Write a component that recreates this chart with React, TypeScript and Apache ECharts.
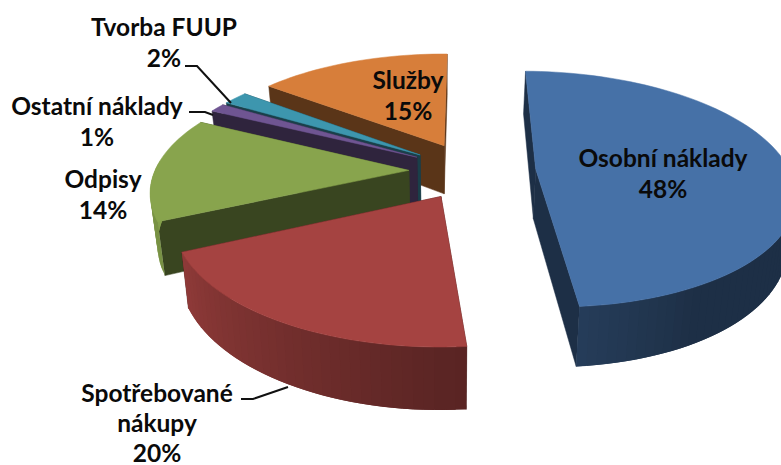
import React, { useEffect, useRef } from "react";
import * as echarts from "echarts";

const categories = ["Osobní náklady", "Spotřebované\nnákupy", "Odpisy", "Ostatní náklady", "Tvorba FUUP", "Služby"];
const shares = [48.45, 19.5, 14.25, 1.2, 1.9, 14.7];
const colors = ["#4671A7", "#A54341", "#88A44D", "#6F5592", "#3D96AE", "#D77E3A"];

const labelAnchors = [
  [663, 173], [157, 422], [103, 194], [97, 121], [164, 42], [408, 95],
];
const labelLineHeights = [31, 30, 31, 31, 31, 31];
const leaders = [
  [[241, 399], [253, 399], [288, 387]],
  [[189, 112], [205, 112], [213, 115]],
  [[185, 66], [197, 66], [231, 103]],
];

const VP_X = 445, PLANE_Y = 170.5, RX = 254, RY = 115, PERSP = 0.17, DEPTH = 50, SHRINK = 0.975;
const CENTER_X = 0.108, EXPLODE = 0.25, ROTATION = 0.8;
const DEG = Math.PI / 180;

function project(X: number, Z: number, low: boolean) {
  const s = 1 / (1 + PERSP * Z);
  let x = VP_X + RX * X * s;
  let y = PLANE_Y - RY * Z * s;
  if (low) {
    x = VP_X + (x - VP_X) * SHRINK;
    y += DEPTH * s;
  }
  return [x, y];
}

function shade(hex: string, k: number) {
  const n = parseInt(hex.slice(1), 16);
  const c = (v: number) => Math.round(Math.min(255, v * k));
  return `rgb(${c((n >> 16) & 255)},${c((n >> 8) & 255)},${c(n & 255)})`;
}

function rimLight(deg: number) {
  if (deg <= 150) return 0.42;
  if (deg >= 270) return 1;
  return 0.42 + ((deg - 150) / 120) * 0.58;
}

function poly(points: number[][], color: string, stroke = true) {
  return {
    type: "polygon",
    shape: { points },
    style: stroke ? { fill: color, stroke: color, lineWidth: 0.5 } : { fill: color },
    silent: true,
  };
}

function renderSlice(_params: any, api: any) {
  const from = api.value(1) as number;
  const to = api.value(2) as number;
  const color = colors[api.value(0) as number];
  const a1 = (from / 100) * 360;
  const a2 = (to / 100) * 360;
  const mid = ((a1 + a2) / 2) * DEG;
  const ax = CENTER_X + EXPLODE * Math.sin(mid);
  const az = EXPLODE * Math.cos(mid);
  const arc: { X: number; Z: number; deg: number }[] = [];
  const steps = Math.max(2, Math.ceil((a2 - a1) / 2));
  for (let i = 0; i <= steps; i++) {
    const deg = a1 + ((a2 - a1) * i) / steps;
    const t = (deg + ROTATION) * DEG;
    arc.push({ X: ax + Math.sin(t), Z: az + Math.cos(t), deg });
  }
  const radialWall = (p: { X: number; Z: number }) =>
    poly(
      [project(ax, az, false), project(p.X, p.Z, false), project(p.X, p.Z, true), project(ax, az, true)],
      shade(color, 0.42),
    );
  // only the rim bands that face the viewer; each overlaps the next so no seams show
  const rim: { z: number; el: any }[] = [];
  for (let i = 0; i < arc.length - 1; i++) {
    const p = arc[i];
    const q = arc[Math.min(i + 2, arc.length - 1)];
    if (Math.cos((p.deg + 1) * DEG) > 0.05) continue;
    rim.push({
      z: (p.Z + q.Z) / 2,
      el: poly(
        [project(p.X, p.Z, false), project(q.X, q.Z, false), project(q.X, q.Z, true), project(p.X, p.Z, true)],
        shade(color, rimLight(p.deg + 1)),
        false,
      ),
    });
  }
  rim.sort((m, n) => n.z - m.z);
  const top = poly([project(ax, az, false), ...arc.map((p) => project(p.X, p.Z, false))], color);
  const first = arc[0], last = arc[arc.length - 1];
  const radials = first.Z > last.Z ? [radialWall(first), radialWall(last)] : [radialWall(last), radialWall(first)];
  return { type: "group", children: [...radials, ...rim.map((w) => w.el), top] };
}

export default function App() {
  const ref = useRef<HTMLDivElement>(null);
  useEffect(() => {
    if (!ref.current) return;
    const chart = echarts.init(ref.current, undefined, { renderer: "svg" });
    let run = 0;
    const rows = shares.map((v, i) => {
      const row = [i, run, run + v];
      run += v;
      return row;
    });
    chart.setOption({
      animation: false,
      backgroundColor: "#fff",
      series: [
        {
          type: "custom",
          coordinateSystem: "none",
          renderItem: renderSlice,
          data: rows.slice().reverse(),
          silent: true,
          z: 1,
        },
      ],
      graphic: [
        ...leaders.map((points) => ({
          type: "polyline",
          z: 5,
          shape: { points },
          style: { stroke: "#111", lineWidth: 2, fill: "none" },
        })),
        ...categories.map((name, i) => ({
          type: "text",
          z: 6,
          x: labelAnchors[i][0],
          y: labelAnchors[i][1],
          style: {
            text: `${name}\n${Math.round(shares[i])}%`,
            fill: "#0a0a0a",
            font: 'bold 24.5px Lato, "Noto Sans", sans-serif',
            lineHeight: labelLineHeights[i],
            align: "center",
            verticalAlign: "middle",
          },
        })),
      ],
    });
    return () => chart.dispose();
  }, []);
  return <div ref={ref} style={{ position: "absolute", left: 0, top: 0, width: 781, height: 465 }} />;
}
